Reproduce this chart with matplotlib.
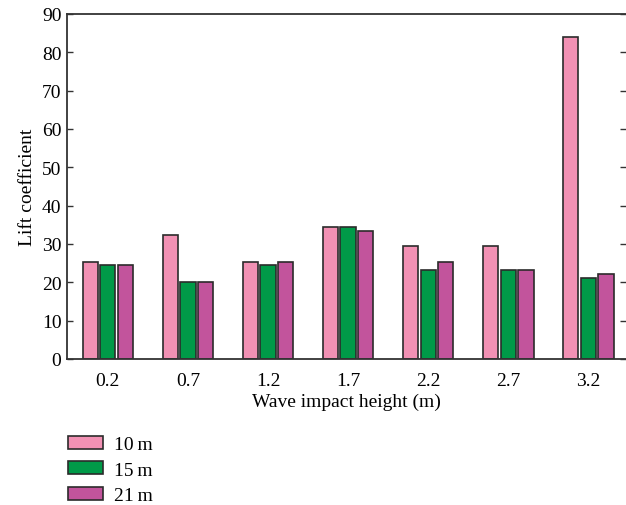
import numpy as np
import matplotlib
matplotlib.use("Agg")
import matplotlib.pyplot as plt

# data
heights = ["0.2", "0.7", "1.2", "1.7", "2.2", "2.7", "3.2"]
lift_10m = [25.4, 32.4, 25.4, 34.5, 29.4, 29.4, 83.9]
lift_15m = [24.4, 20.1, 24.4, 34.5, 23.1, 23.1, 21.2]
lift_21m = [24.4, 20.1, 25.4, 33.3, 25.3, 23.1, 22.3]
series_names = ["10\u2009m", "15\u2009m", "21\u2009m"]
colors = ["#f291b4", "#009a48", "#c2549c"]

FS = 14
plt.rcParams['font.family'] = ['Liberation Serif', 'DejaVu Serif']
plt.rcParams['font.size'] = FS

W, H = 626, 506
fig = plt.figure(figsize=(W / 100, H / 100), dpi=100)
ax = fig.add_axes([67 / W, (H - 360) / H, (W - 67) / W, 345 / H])

x = np.arange(len(heights))
step = 0.22
width = 0.19
for i, (vals, name, c) in enumerate(zip([lift_10m, lift_15m, lift_21m], series_names, colors)):
    ax.bar(x + (i - 1) * step, vals, width, color=c, edgecolor="#2b2b2b",
           linewidth=1.2, label=name)

ax.set_xlim(-0.51, 6.47)
ax.set_ylim(0, 90)
ax.set_yticks(range(0, 91, 10))
ax.set_xticks(x)
ax.set_xticklabels(heights)
ax.tick_params(axis='x', length=0, pad=9, labelsize=FS)
ax.tick_params(axis='y', direction='in', length=4, width=1, right=True,
               labelsize=FS, color='#333333', pad=4)
ax.spines['right'].set_visible(False)
for s in ['left', 'top', 'bottom']:
    ax.spines[s].set_color('#333333')
    ax.spines[s].set_linewidth(1.3)

ax.set_xlabel("Wave impact height (m)", fontsize=FS, labelpad=3)
ax.set_ylabel("Lift coefficient", fontsize=FS, labelpad=4)

fig.legend(loc='upper left', bbox_to_anchor=(60 / W, 1 - 429 / H),
           frameon=False, fontsize=FS, handlelength=1.8, handleheight=0.67,
           handletextpad=0.57, labelspacing=0.41, borderaxespad=0)

fig.savefig("out.png", dpi=100)
